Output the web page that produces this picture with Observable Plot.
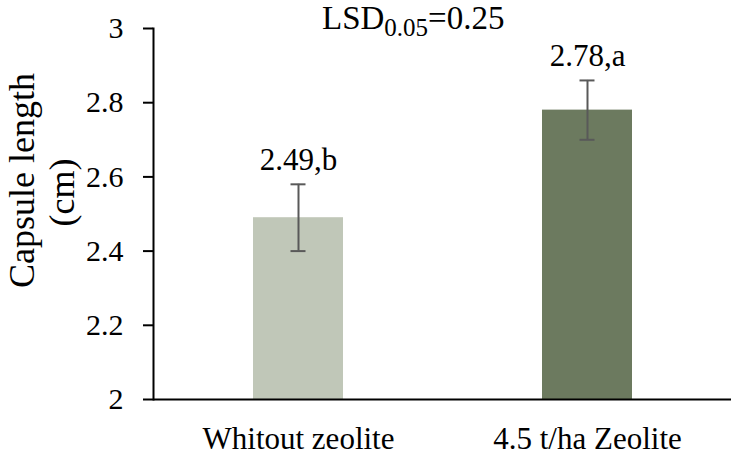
<!DOCTYPE html>
<html>
<head>
<meta charset="utf-8">
<script src="https://cdn.jsdelivr.net/npm/d3@7"></script>
<script src="https://cdn.jsdelivr.net/npm/@observablehq/plot@0.6"></script>
<style>
  body { margin: 0; background: #fff; }
  #chart { position: relative; width: 740px; height: 457px; }
  #chart svg { display: block; }
  .lsd {
    position: absolute; left: 322px; top: 3px;
    font-family: 'Liberation Serif', 'Times New Roman', serif;
    font-size: 33px; line-height: 31px; white-space: nowrap; color: #000;
  }
  .lsd .sub { font-size: 25px; position: relative; top: 7px; }
</style>
</head>
<body>
<div id="chart"></div>
<script>
// Capsule length by zeolite treatment (means ± error, with LSD letters)
const categories = ["Whitout zeolite", "4.5 t/ha Zeolite"];
const means = [2.49, 2.78];
const errors = [0.09, 0.08];
const letters = ["b", "a"];
const barColors = ["#c0c7b8", "#6c7a5f"];
const yTicks = [2, 2.2, 2.4, 2.6, 2.8, 3];
const yTitleLines = ["Capsule length", "(cm)"];
const lsdLevel = "0.05";
const lsdValue = 0.25;

const rows = categories.map((category, i) => ({
  category,
  mean: means[i],
  err: errors[i],
  letter: letters[i],
  color: barColors[i]
}));

const serif = "'Liberation Serif', 'Times New Roman', serif";
const errColor = "#595959";

const chart = Plot.plot({
  width: 740,
  height: 457,
  marginLeft: 153,
  marginRight: 9,
  marginTop: 28,
  marginBottom: 58,
  style: { fontFamily: serif, fontSize: "30px", color: "#000", background: "#fff" },
  x: { domain: categories, paddingInner: 0.689, paddingOuter: 0.3443, axis: null },
  y: { domain: [yTicks[0], yTicks[yTicks.length - 1]], axis: null },
  color: { type: "identity" },
  marks: [
    Plot.barY(rows, { x: "category", y1: yTicks[0], y2: "mean", fill: "color" }),
    Plot.ruleX(rows, { x: "category", y1: d => d.mean - d.err, y2: d => d.mean + d.err, stroke: errColor, strokeWidth: 2 }),
    Plot.tickY(rows, { x: "category", y: d => d.mean - d.err, stroke: errColor, strokeWidth: 2, insetLeft: 37.5, insetRight: 37.5 }),
    Plot.tickY(rows, { x: "category", y: d => d.mean + d.err, stroke: errColor, strokeWidth: 2, insetLeft: 37.5, insetRight: 37.5 }),
    Plot.text(rows, {
      x: "category",
      y: d => d.mean + d.err,
      text: d => `${d.mean.toFixed(2)},${d.letter}`,
      lineAnchor: "bottom",
      dy: -14,
      fontSize: 31,
      fontFamily: serif,
      fill: "#000"
    }),
    // category labels under the baseline
    Plot.text(rows, {
      x: "category",
      text: "category",
      frameAnchor: "bottom",
      lineAnchor: "top",
      dy: 27,
      fontSize: 31,
      fontFamily: serif,
      fill: "#000"
    }),
    // value axis
    Plot.axisY(yTicks, {
      label: null,
      tickSize: 10,
      tickPadding: 20,
      tickFormat: d => String(d),
      strokeWidth: 2,
      fontSize: 30,
      fontFamily: serif,
      fill: "#000"
    }),
    Plot.frame({ anchor: "left", stroke: "#000", strokeWidth: 2 }),
    Plot.ruleY([yTicks[0]], { stroke: "#000", strokeWidth: 2 }),
    // two-line rotated axis title
    Plot.text([yTitleLines[0]], { text: d => d, frameAnchor: "left", textAnchor: "middle", lineAnchor: "middle", rotate: -90, dx: -131, dy: -33.5, fontSize: 36, fontFamily: serif, fill: "#000" }),
    Plot.text([yTitleLines[1]], { text: d => d, frameAnchor: "left", textAnchor: "middle", lineAnchor: "middle", rotate: -90, dx: -91, dy: -21.5, fontSize: 36, fontFamily: serif, fill: "#000" })
  ]
});

const container = document.getElementById("chart");
container.appendChild(chart);

// LSD annotation with subscripted significance level
const lsd = document.createElement("div");
lsd.className = "lsd";
lsd.append("LSD");
const sub = document.createElement("span");
sub.className = "sub";
sub.textContent = lsdLevel;
lsd.append(sub);
lsd.append("=" + lsdValue.toFixed(2));
container.appendChild(lsd);
</script>
</body>
</html>
